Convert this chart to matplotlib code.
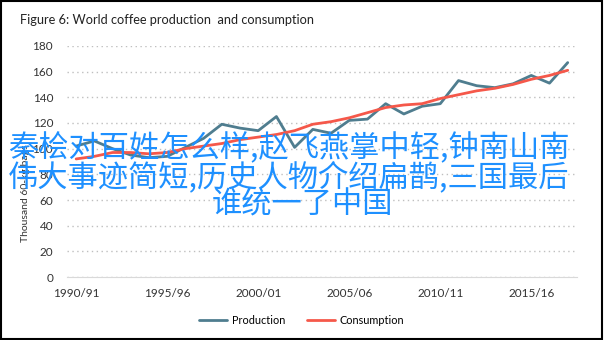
import matplotlib.pyplot as plt
from matplotlib.patches import Rectangle

# crop years, one point per season
seasons = ['1990/91', '1991/92', '1992/93', '1993/94', '1994/95', '1995/96', '1996/97',
           '1997/98', '1998/99', '1999/00', '2000/01', '2001/02', '2002/03', '2003/04',
           '2004/05', '2005/06', '2006/07', '2007/08', '2008/09', '2009/10', '2010/11',
           '2011/12', '2012/13', '2013/14', '2014/15', '2015/16', '2016/17', '2017/18']
production = [102, 106, 100, 95, 93, 94, 101, 108, 119, 116, 114, 125, 101, 115,
              112, 122, 123, 135, 127, 133, 135, 153, 149, 147.5, 150.5, 157, 151, 167]
consumption = [92, 94, 97, 97, 96, 97, 100, 102, 104, 107, 109, 111, 114, 119,
               121, 124, 128, 132, 134, 135, 139, 142, 145, 147, 150, 154, 157, 161]
yticks = [0, 20, 40, 60, 80, 100, 120, 140, 160, 180]

overlay = ['秦桧对百姓怎么样,赵飞燕掌中轻,钟南山南',
           '伟大事迹简短,历史人物介绍扁鹊,三国最后',
           '谁统一了中国']

plt.rcParams['font.family'] = ['Lato', 'DejaVu Sans']

fig = plt.figure(figsize=(6.04, 3.4), dpi=100)
ax = fig.add_axes([0.111, 0.185, 0.844, 0.68])

x = list(range(len(seasons)))
ax.plot(x, production, color='#4f7d8f', lw=2.0, label='Production', solid_capstyle='round')
ax.plot(x, consumption, color='#f5584a', lw=2.0, label='Consumption', solid_capstyle='round')

ax.set_xlim(-0.5, len(seasons) - 0.5)
ax.set_ylim(0, 180)
ax.set_yticks(yticks)
ax.set_xticks(x[::5])
ax.set_xticklabels(seasons[::5])
ax.tick_params(axis='both', length=0, labelsize=8.5, colors='#333333')
ax.tick_params(axis='x', pad=8)
ax.tick_params(axis='y', pad=10)

ax.grid(axis='y', linestyle=(0, (1, 2.5)), color='#bfbfbf', lw=1.0)
ax.set_axisbelow(True)
for side in ['top', 'right', 'left']:
    ax.spines[side].set_visible(False)
ax.spines['bottom'].set_color('#d9d9d9')

fig.text(25 / 604, 1 - 242 / 340, 'Thousand 60-kg bags', rotation=90,
         ha='center', va='bottom', fontsize=7.5, color='#333333')

fig.text(20 / 604, 1 - 20 / 340, 'Figure 6: World coffee production  and consumption',
         ha='left', va='center', fontsize=9.2, color='#222222')

ax.legend(loc='upper center', bbox_to_anchor=(0.46, -0.12), ncol=2, frameon=False,
          fontsize=7.8, handlelength=2.6, columnspacing=2.0, handletextpad=0.4)

# border round the whole figure
fig.patches.append(Rectangle((0.002, 0.004), 0.995, 0.994, transform=fig.transFigure,
                             fill=False, edgecolor='black', lw=1.5))

for text, xpix, ypix in zip(overlay, [289, 289, 302], [148, 177, 205]):
    fig.text(xpix / 604, 1 - ypix / 340, text, ha='center', va='center', fontsize=21.8,
             color='#1e90ff', family=['Noto Sans CJK SC', 'DejaVu Sans'])

fig.savefig('out.png', dpi=100)
